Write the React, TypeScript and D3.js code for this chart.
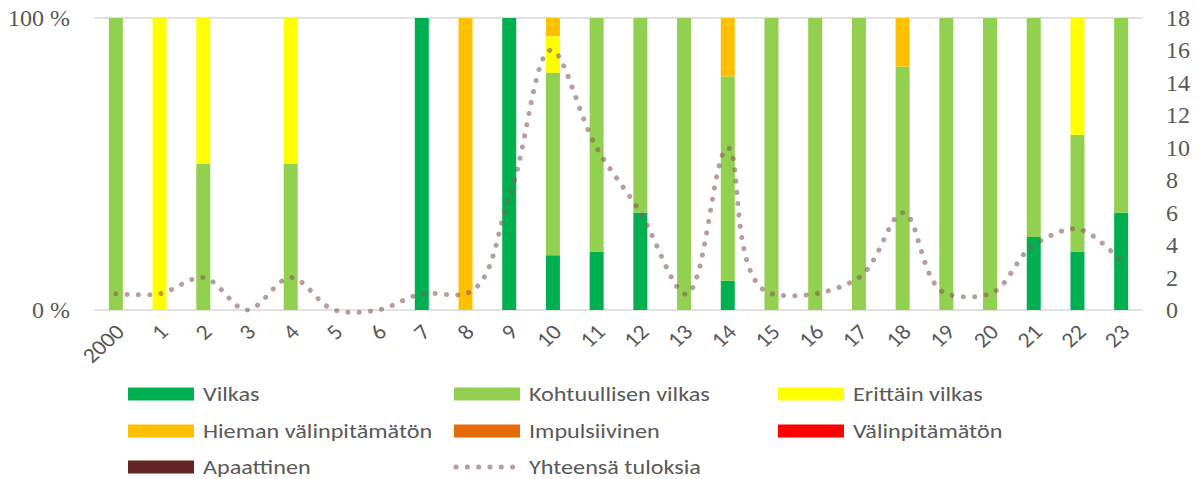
import React from "react";
import * as d3 from "d3";

const categories = ["2000","1","2","3","4","5","6","7","8","9","10","11","12","13","14","15","16","17","18","19","20","21","22","23"];
const vilkas =        [0,0,0,0,0,0,0,1,0,7,3,2,2,0,1,0,0,0,0,0,0,1,1,1];
const kohtuullinen =  [1,0,1,0,1,0,0,0,0,0,10,8,4,1,7,1,1,2,5,1,1,3,2,2];
const erittain =      [0,1,1,0,1,0,0,0,0,0,2,0,0,0,0,0,0,0,0,0,0,0,2,0];
const hieman =        [0,0,0,0,0,0,0,0,1,0,1,0,0,0,2,0,0,0,1,0,0,0,0,0];
const impulsiivinen = [0,0,0,0,0,0,0,0,0,0,0,0,0,0,0,0,0,0,0,0,0,0,0,0];
const valinpitamaton =[0,0,0,0,0,0,0,0,0,0,0,0,0,0,0,0,0,0,0,0,0,0,0,0];
const apaattinen =    [0,0,0,0,0,0,0,0,0,0,0,0,0,0,0,0,0,0,0,0,0,0,0,0];
const totals =        [1,1,2,0,2,0,0,1,1,7,16,10,6,1,10,1,1,2,6,1,1,4,5,3];
const leftTicks = [0, 1];
const leftTickLabels = ["0 %", "100 %"];
const rightTicks = [0,2,4,6,8,10,12,14,16,18];

const seriesNames = ["Vilkas","Kohtuullisen vilkas","Erittäin vilkas","Hieman välinpitämätön","Impulsiivinen","Välinpitämätön","Apaattinen"];
const seriesValues = [vilkas, kohtuullinen, erittain, hieman, impulsiivinen, valinpitamaton, apaattinen];
const seriesColors = ["#00B050","#92D050","#FFFF00","#FFC000","#E36C09","#FF0000","#632523"];
const lineName = "Yhteensä tuloksia";

const W = 1199, H = 479;
const L = 94, R = 1143, T = 18, B = 310;
const axisFont = "'Liberation Serif', 'DejaVu Serif', serif";
const labelFont = "Carlito, 'Liberation Sans Narrow', 'Open Sans', sans-serif";
const textColor = "#595959";
const dotStroke = "#8B5A5A";

export default function App() {
  const x = d3.scaleBand<string>().domain(categories).range([L, R]).paddingInner(0.68).paddingOuter(0.34);
  const yPct = d3.scaleLinear().domain([0, 1]).range([B, T]);
  const yR = d3.scaleLinear().domain([0, 18]).range([B, T]);

  const rows = categories.map((c, i) => {
    const r: any = { cat: c };
    seriesNames.forEach((n, k) => { r[n] = totals[i] ? seriesValues[k][i] / totals[i] : 0; });
    return r;
  });
  const stacked = d3.stack<any>().keys(seriesNames)(rows);

  const line = d3.line<number>()
    .x((_, i) => (x(categories[i]) as number) + x.bandwidth() / 2)
    .y((d) => yR(d))
    .curve(d3.curveCatmullRom.alpha(1));

  const legendCols = [128, 454, 778];
  const legendRows = [394, 431, 467];
  const legendItems = [...seriesNames.map((n, k) => ({ name: n, color: seriesColors[k], line: false })), { name: lineName, color: "", line: true }];

  return (
    <svg width={W} height={H} style={{ position: "absolute", left: 0, top: 0, background: "#fff" }}>
      {leftTicks.map((t) => (
        <line key={"g" + t} x1={L} x2={R} y1={yPct(t)} y2={yPct(t)} stroke="#D9D9D9" strokeWidth={1.5} />
      ))}
      {stacked.map((s, k) => (
        <g key={seriesNames[k]} fill={seriesColors[k]}>
          {s.map((d, i) => d[1] - d[0] > 0 ? (
            <rect key={i} x={x(categories[i])} width={x.bandwidth()} y={yPct(d[1])} height={yPct(d[0]) - yPct(d[1])} />
          ) : null)}
        </g>
      ))}
      <path d={line(totals) || ""} fill="none" stroke={dotStroke} strokeOpacity={0.6} strokeWidth={5} strokeLinecap="round" strokeDasharray="0.1 11.2" />
      {leftTicks.map((t, i) => (
        <text key={"l" + t} x={70} y={yPct(t)} textAnchor="end" dominantBaseline="central" fontFamily={axisFont} fontSize={24} fill={textColor}>{leftTickLabels[i]}</text>
      ))}
      {rightTicks.map((t) => (
        <text key={"r" + t} x={1166} y={yR(t)} textAnchor="start" dominantBaseline="central" fontFamily={axisFont} fontSize={24} fill={textColor}>{t}</text>
      ))}
      {categories.map((c) => {
        const cx = (x(c) as number) + x.bandwidth() / 2;
        return (
          <text key={"x" + c} transform={`translate(${cx + 4},${328}) scale(1.1,1) rotate(-45)`} textAnchor="end" dominantBaseline="central" fontFamily={labelFont} fontSize={21.5} fill={textColor}>{c}</text>
        );
      })}
      {legendItems.map((it, i) => {
        const lx = legendCols[i % 3];
        const ly = legendRows[Math.floor(i / 3)];
        return (
          <g key={it.name}>
            {it.line ? (
              <line x1={lx + 2} x2={lx + 64} y1={ly} y2={ly} stroke={dotStroke} strokeOpacity={0.6} strokeWidth={5} strokeLinecap="round" strokeDasharray="0.1 11.2" />
            ) : (
              <rect x={lx} y={ly - 6.5} width={66} height={13} fill={it.color} />
            )}
            <text transform={`translate(${lx + 75},${ly}) scale(1.18,1)`} dominantBaseline="central" fontFamily={labelFont} fontSize={20.5} fill={textColor}>{it.name}</text>
          </g>
        );
      })}
    </svg>
  );
}
